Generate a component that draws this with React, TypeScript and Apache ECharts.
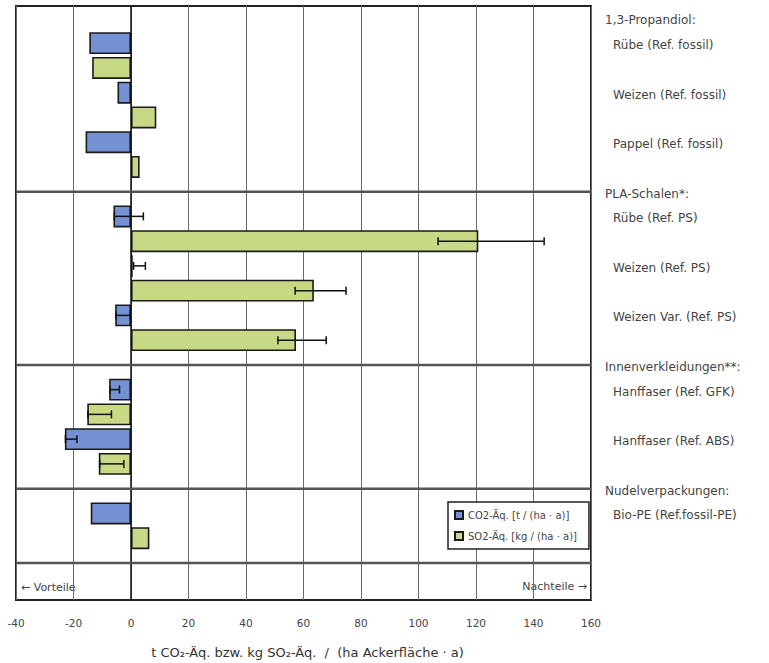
import React, { useEffect, useRef } from "react";
import * as echarts from "echarts";

// ---- data ----
const groupNames = ["1,3-Propandiol:", "PLA-Schalen*:", "Innenverkleidungen**:", "Nudelverpackungen:"];
const groupSizes = [3, 3, 2, 1];
const itemNames = [
  "Rübe (Ref. fossil)",
  "Weizen (Ref. fossil)",
  "Pappel (Ref. fossil)",
  "Rübe (Ref. PS)",
  "Weizen (Ref. PS)",
  "Weizen Var. (Ref. PS)",
  "Hanffaser (Ref. GFK)",
  "Hanffaser (Ref. ABS)",
  "Bio-PE (Ref.fossil-PE)",
];
const co2Values = [-14.5, -4.7, -15.8, -6.1, 0.6, -5.5, -7.6, -23.0, -14.0];
const so2Values = [-13.5, 8.8, 3.0, 120.8, 63.6, 57.4, -15.2, -11.2, 6.4];
const co2ErrLow = [null, null, null, -5.8, 0.9, -5.2, -7.3, -22.8, null];
const co2ErrHigh = [null, null, null, 4.3, 5.0, -0.3, -4.0, -18.8, null];
const so2ErrLow = [null, null, null, 106.8, 57.1, 51.1, -15.0, -10.9, null];
const so2ErrHigh = [null, null, null, 143.7, 74.8, 67.9, -6.8, -2.5, null];
const seriesNames = ["CO2-Äq. [t / (ha · a)]", "SO2-Äq. [kg / (ha · a)]"];
const xTicks = { min: -40, max: 160, interval: 20 };
const axisTitle = "t CO₂-Äq. bzw. kg SO₂-Äq.  /  (ha Ackerfläche · a)";
const leftNote = "← Vorteile";
const rightNote = "Nachteile →";

// ---- build slot layout ----
type Slot = { label: string; kind: "h" | "s" | "" };
const slots: Slot[] = [];
const co2Slot: (number | string)[] = [];
const so2Slot: (number | string)[] = [];
const errData: number[][] = [];
const dividerSlots: number[] = [];
let itemIdx = 0;
groupNames.forEach((g, gi) => {
  if (gi > 0) dividerSlots.push(slots.length);
  slots.push({ label: g, kind: "h" });
  co2Slot.push("-");
  so2Slot.push("-");
  for (let k = 0; k < groupSizes[gi]; k++) {
    const i = itemIdx++;
    const bSlot = slots.length;
    slots.push({ label: itemNames[i], kind: "s" });
    co2Slot.push(co2Values[i]);
    so2Slot.push("-");
    const gSlot = slots.length;
    slots.push({ label: "", kind: "" });
    co2Slot.push("-");
    so2Slot.push(so2Values[i]);
    if (co2ErrLow[i] !== null) errData.push([co2ErrLow[i] as number, co2ErrHigh[i] as number, bSlot]);
    if (so2ErrLow[i] !== null) errData.push([so2ErrLow[i] as number, so2ErrHigh[i] as number, gSlot]);
  }
});
dividerSlots.push(slots.length);
slots.push({ label: "", kind: "" });
co2Slot.push("-");
so2Slot.push("-");
slots.push({ label: "", kind: "" });
co2Slot.push("-");
so2Slot.push("-");

const FONT = "DejaVu Sans";
const TXT = "#444";

export default function App() {
  const ref = useRef<HTMLDivElement>(null);
  useEffect(() => {
    if (!ref.current) return;
    const chart = echarts.init(ref.current, undefined, { renderer: "svg" });
    const barStyle = { borderColor: "#1a1a1a", borderWidth: 1.6 };
    chart.setOption({
      animation: false,
      backgroundColor: "#fff",
      textStyle: { fontFamily: FONT },
      grid: {
        left: 16,
        top: 6,
        width: 575,
        height: 594,
        outerBoundsMode: "none",
        containLabel: false,
        show: true,
        borderColor: "#222",
        borderWidth: 2,
        backgroundColor: "#fff",
      },
      legend: {
        orient: "vertical",
        left: 448,
        top: 502,
        backgroundColor: "#fff",
        borderColor: "#222",
        borderWidth: 1.5,
        borderRadius: 0,
        padding: [8, 12, 8, 6],
        itemWidth: 8,
        itemHeight: 8,
        itemGap: 11,
        icon: "rect",
        textStyle: { fontFamily: FONT, fontSize: 10, color: TXT },
        data: seriesNames,
      },
      xAxis: {
        type: "value",
        min: xTicks.min,
        max: xTicks.max,
        interval: xTicks.interval,
        axisLine: { show: false },
        axisTick: { show: false },
        splitLine: { show: true, lineStyle: { color: "#6a6a6a", width: 1 } },
        axisLabel: { fontFamily: FONT, fontSize: 10.5, color: TXT, margin: 17 },
        name: axisTitle,
        nameLocation: "middle",
        nameGap: 46,
        nameTextStyle: { fontFamily: FONT, fontSize: 13, color: "#333", padding: [0, 0, 0, 8] },
      },
      yAxis: {
        type: "category",
        inverse: true,
        position: "right",
        data: slots.map((_, i) => "s" + i),
        axisLine: { show: false, onZero: false },
        axisTick: { show: false },
        splitLine: { show: false },
        axisLabel: {
          interval: 0,
          margin: 14,
          formatter: (_v: string, i: number) => {
            const s = slots[i];
            if (!s || !s.label) return "";
            return s.kind === "h" ? `{h|${s.label}}` : `{s|${s.label}}`;
          },
          rich: {
            h: { fontFamily: FONT, fontSize: 12, color: TXT, padding: [4, 0, 0, 0] },
            s: { fontFamily: FONT, fontSize: 12, color: TXT, padding: [4, 0, 0, 8] },
          },
        },
      },
      series: [
        {
          name: seriesNames[0],
          type: "bar",
          data: co2Slot,
          barWidth: 22,
          barGap: "-100%",
          itemStyle: { color: "#7391D3", ...barStyle },
        },
        {
          name: seriesNames[1],
          type: "bar",
          data: so2Slot,
          barWidth: 22,
          barGap: "-100%",
          itemStyle: { color: "#C8D985", ...barStyle },
          markLine: {
            silent: true,
            symbol: "none",
            label: { show: false },
            lineStyle: { color: "#111", width: 1.5, type: "solid" },
            data: [{ xAxis: 0 }],
          },
        },
        {
          type: "custom",
          name: "dividers",
          data: dividerSlots.map((s) => [0, s]),
          encode: { x: 0, y: 1 },
          z: 5,
          silent: true,
          renderItem: (params: any, api: any) => {
            const cs = params.coordSys;
            const yy = api.coord([0, api.value(1)])[1];
            return {
              type: "line",
              shape: { x1: cs.x, y1: yy, x2: cs.x + cs.width, y2: yy },
              style: { stroke: "#555", lineWidth: 2.5 },
            };
          },
        },
        {
          type: "custom",
          name: "errors",
          data: errData,
          encode: { x: [0, 1], y: 2 },
          z: 10,
          silent: true,
          renderItem: (_params: any, api: any) => {
            const yIdx = api.value(2);
            const p1 = api.coord([api.value(0), yIdx]);
            const p2 = api.coord([api.value(1), yIdx]);
            const h = 4;
            const st = { stroke: "#111", lineWidth: 1.5 };
            return {
              type: "group",
              children: [
                { type: "line", shape: { x1: p1[0], y1: p1[1], x2: p2[0], y2: p2[1] }, style: st },
                { type: "line", shape: { x1: p1[0], y1: p1[1] - h, x2: p1[0], y2: p1[1] + h }, style: st },
                { type: "line", shape: { x1: p2[0], y1: p2[1] - h, x2: p2[0], y2: p2[1] + h }, style: st },
              ],
            };
          },
        },
      ],
      graphic: [
        {
          type: "text",
          left: 21,
          top: 582,
          style: { text: leftNote, fontFamily: FONT, fontSize: 11, fill: TXT },
        },
        {
          type: "text",
          right: 182,
          top: 581,
          style: { text: rightNote, fontFamily: FONT, fontSize: 11, fill: TXT },
        },
      ],
    });
    return () => chart.dispose();
  }, []);
  return (
    <div
      ref={ref}
      style={{ position: "fixed", left: 0, top: 0, width: 769, height: 663 }}
    />
  );
}
